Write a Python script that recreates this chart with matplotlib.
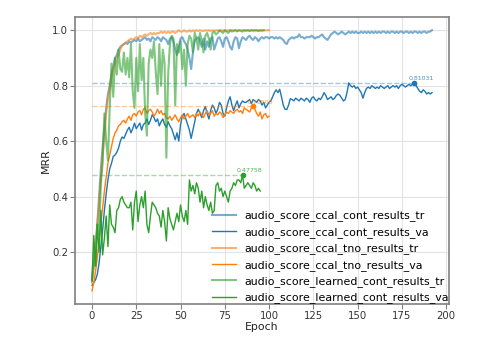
import matplotlib.pyplot as plt
import numpy as np

# 每条曲线的数据(按epoch)
ccal_cont_tr = [0.10,0.15,0.22,0.30,0.40,0.50,0.58,0.65,0.72,0.77,0.80,0.84,0.87,0.90,0.91,0.93,0.94,0.945,0.95,0.955,
    0.95,0.96,0.955,0.96,0.965,0.96,0.97,0.96,0.965,0.97,0.975,0.965,0.97,0.96,0.975,0.97,0.965,0.975,0.97,0.96,
    0.975,0.97,0.965,0.95,0.97,0.975,0.96,0.93,0.91,0.94,0.97,0.975,0.96,0.95,0.93,0.90,0.86,0.92,0.96,0.97,
    0.975,0.96,0.94,0.97,0.93,0.96,0.94,0.97,0.975,0.93,0.95,0.97,0.975,0.96,0.94,0.97,0.975,0.96,0.94,0.93,
    0.96,0.975,0.97,0.935,0.96,0.975,0.97,0.965,0.975,0.98,0.97,0.965,0.975,0.97,0.96,0.97,0.975,0.97,0.975,0.975,
    0.97,0.975,0.975,0.97,0.975,0.97,0.975,0.97,0.965,0.955,0.95,0.965,0.97,0.975,0.97,0.975,0.975,0.985,0.975,0.975,
    0.97,0.975,0.975,0.975,0.98,0.975,0.97,0.975,0.975,0.98,0.985,0.975,0.97,0.965,0.975,0.985,0.99,0.995,0.99,0.985,
    0.99,0.995,0.99,0.985,0.99,0.995,0.99,0.995,0.99,0.995,0.99,0.99,0.995,0.99,0.995,0.99,0.995,0.99,0.995,0.99,
    0.995,0.99,0.995,0.99,0.995,0.995,0.99,0.995,0.99,0.995,0.995,0.99,0.995,0.99,0.995,0.995,0.99,0.995,0.995,0.99,
    0.995,0.99,0.995,0.995,0.99,0.995,0.99,0.995,0.995,0.99,0.995,0.995,1.0]
ccal_cont_va = [0.08,0.09,0.10,0.12,0.16,0.22,0.28,0.35,0.41,0.46,0.50,0.52,0.545,0.55,0.56,0.575,0.60,0.615,0.61,0.625,
    0.64,0.65,0.63,0.645,0.665,0.645,0.655,0.665,0.64,0.66,0.665,0.68,0.66,0.675,0.695,0.685,0.67,0.68,0.655,0.67,
    0.68,0.66,0.65,0.67,0.655,0.645,0.625,0.605,0.63,0.60,0.66,0.69,0.70,0.68,0.66,0.64,0.61,0.64,0.67,0.70,
    0.715,0.70,0.685,0.71,0.725,0.70,0.68,0.71,0.73,0.72,0.70,0.715,0.74,0.73,0.70,0.69,0.72,0.745,0.76,0.73,
    0.71,0.73,0.745,0.72,0.735,0.745,0.74,0.74,0.745,0.75,0.735,0.75,0.745,0.74,0.75,0.745,0.73,0.74,0.72,0.73,
    0.74,0.745,0.76,0.775,0.785,0.775,0.787,0.76,0.73,0.715,0.714,0.73,0.753,0.75,0.745,0.755,0.75,0.745,0.755,0.75,
    0.745,0.755,0.75,0.74,0.755,0.76,0.75,0.745,0.755,0.75,0.76,0.775,0.765,0.75,0.755,0.76,0.75,0.755,0.765,0.77,
    0.765,0.755,0.745,0.75,0.775,0.81,0.80,0.795,0.80,0.79,0.795,0.785,0.775,0.755,0.775,0.79,0.795,0.79,0.80,0.795,
    0.79,0.795,0.79,0.80,0.795,0.79,0.795,0.80,0.79,0.795,0.80,0.795,0.80,0.79,0.80,0.805,0.80,0.795,0.80,0.805,
    0.80,0.805,0.81031,0.80,0.79,0.78,0.775,0.785,0.78,0.77,0.775,0.77,0.775]
ccal_tno_tr = [0.09,0.15,0.22,0.30,0.38,0.46,0.55,0.62,0.70,0.75,0.79,0.83,0.86,0.88,0.90,0.91,0.93,0.945,0.95,0.955,
    0.96,0.965,0.97,0.965,0.97,0.975,0.97,0.98,0.975,0.98,0.985,0.98,0.985,0.99,0.985,0.99,0.985,0.99,0.99,0.995,
    0.99,0.995,0.99,0.995,0.99,0.995,0.995,0.99,0.995,1.0,0.995,0.995,1.0,0.995,0.995,1.0,0.995,1.0,0.995,1.0,
    0.997,1.0,0.998,0.997,1.0,0.998,1.0,0.997,1.0,0.998,1.0,0.999,0.998,1.0,0.999,1.0,0.998,1.0,0.999,1.0,
    0.999,1.0,0.998,1.0,0.999,1.0,1.0,0.999,1.0,0.999,1.0,1.0,0.999,1.0,1.0,0.999,1.0,1.0,0.999,1.0,1.0]
ccal_tno_va = [0.06,0.09,0.13,0.18,0.24,0.30,0.36,0.42,0.47,0.52,0.55,0.58,0.61,0.63,0.64,0.655,0.66,0.67,0.675,0.665,
    0.68,0.69,0.675,0.695,0.70,0.69,0.705,0.71,0.695,0.715,0.72,0.70,0.71,0.715,0.705,0.69,0.70,0.715,0.70,0.71,
    0.695,0.70,0.685,0.68,0.69,0.675,0.685,0.695,0.68,0.67,0.685,0.695,0.68,0.69,0.70,0.685,0.69,0.695,0.685,0.70,
    0.69,0.705,0.695,0.685,0.70,0.71,0.695,0.70,0.71,0.69,0.70,0.695,0.705,0.70,0.685,0.695,0.705,0.70,0.71,0.705,
    0.70,0.71,0.715,0.705,0.71,0.70,0.72,0.715,0.71,0.705,0.72,0.725,0.715,0.70,0.69,0.705,0.68,0.695,0.70,0.685,0.69]
learned_cont_tr = [0.10,0.20,0.15,0.30,0.26,0.45,0.52,0.70,0.60,0.53,0.72,0.88,0.76,0.90,0.84,0.93,0.86,0.85,0.92,0.84,
    0.90,0.83,0.95,0.78,0.72,0.90,0.78,0.95,0.82,0.90,0.70,0.62,0.88,0.93,0.90,0.96,0.85,0.77,0.95,0.80,
    0.93,0.88,0.54,0.84,0.95,0.98,0.97,0.73,0.95,0.92,0.96,0.86,0.93,0.80,0.95,0.98,0.97,0.92,0.99,0.97,
    0.93,0.99,0.96,0.92,0.98,0.99,0.97,0.93,0.99,0.995,0.985,0.99,1.0,0.995,0.99,1.0,0.995,0.99,1.0,0.995,
    0.998,1.0,0.996,1.0,0.998,0.995,1.0,0.998,1.0,0.997,1.0,0.998,1.0,0.999,0.997,1.0,0.998,1.0]
learned_cont_va = [0.095,0.26,0.15,0.30,0.20,0.35,0.19,0.25,0.33,0.22,0.37,0.30,0.29,0.27,0.35,0.36,0.39,0.40,0.38,0.37,
    0.36,0.36,0.38,0.28,0.38,0.42,0.31,0.37,0.40,0.36,0.42,0.30,0.27,0.33,0.38,0.37,0.36,0.34,0.33,0.29,
    0.35,0.31,0.24,0.36,0.32,0.30,0.28,0.31,0.34,0.31,0.37,0.33,0.31,0.35,0.30,0.46,0.42,0.44,0.41,0.45,
    0.43,0.38,0.42,0.36,0.40,0.37,0.35,0.38,0.34,0.35,0.44,0.45,0.42,0.43,0.40,0.42,0.40,0.38,0.42,0.43,
    0.45,0.44,0.46,0.46,0.45,0.47758,0.43,0.44,0.45,0.44,0.43,0.45,0.44,0.42,0.43,0.42]

names = ['audio_score_ccal_cont_results', 'audio_score_ccal_tno_results', 'audio_score_learned_cont_results']
train = [ccal_cont_tr, ccal_tno_tr, learned_cont_tr]
valid = [ccal_cont_va, ccal_tno_va, learned_cont_va]
colors = ['tab:blue', 'tab:orange', 'tab:green']

fig = plt.figure(figsize=(5, 3.58), dpi=100)
ax = fig.add_axes([0.15, 0.151, 0.748, 0.801])

for name, tr, va, c in zip(names, train, valid, colors):
    ax.plot(range(len(tr)), tr, color=c, alpha=0.6, lw=1.5, label=name + '_tr')
    ax.plot(range(len(va)), va, color=c, lw=1.0, label=name + '_va')
    # 标出验证集最大值
    best = int(np.argmax(va))
    ax.hlines(va[best], 0, best, colors=c, linestyles='--', lw=1.0, alpha=0.4)
    ax.plot(best, va[best], 'o', color=c, ms=3)
    ax.annotate('%.5f' % va[best], (best, va[best]), xytext=(-4, 2), textcoords='offset points',
                fontsize=4.5, color=c, alpha=0.8)

#坐标轴设置
ax.set_xticks(range(0, 201, 25))
ax.set_yticks([0.2, 0.4, 0.6, 0.8, 1.0])
ax.tick_params(labelsize=7.3, color='gray', labelcolor='#333333', length=3.5, pad=1.5)
ax.grid(True, color='#e3e3e3', lw=0.8)
for s in ax.spines.values():
    s.set_color('gray')
    s.set_linewidth(1.2)
ax.set_xlabel('Epoch', fontsize=7.8, labelpad=1, color='#222222')
ax.set_ylabel('MRR', fontsize=7.8, labelpad=0.5, color='#222222')
ax.legend(loc='lower right', bbox_to_anchor=(1.02, -0.025), frameon=False, fontsize=7.9,
          handlelength=2.1, borderaxespad=0.3)

plt.savefig('out.png', dpi=100)
